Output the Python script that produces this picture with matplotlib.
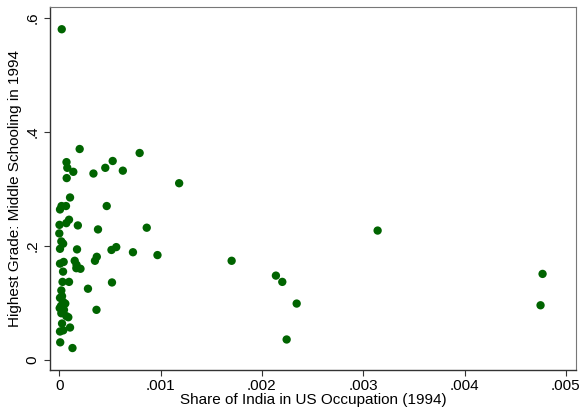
import matplotlib
matplotlib.use("Agg")
import matplotlib.pyplot as plt

# Share of India in US occupation (1994)
share = [0.000024, 0.000201, 0.000071, 0.000079, 0.000138, 0.000073, 0.000337, 0.000454,
         0.000527, 0.000627, 0.000793, 0.001183, 0.000106, 0.000468, 0.000007, 0.000022,
         0.000066, 0.000002, 0.000069, 0.000096, 0.000183, 0.000382, 0.000863, 0.000000,
         0.000020, 0.000038, 0.000007, 0.000175, 0.000515, 0.000562, 0.000727, 0.000969,
         0.000007, 0.000043, 0.000152, 0.000170, 0.000352, 0.000370, 0.000037, 0.000168,
         0.000209, 0.000032, 0.000096, 0.000520, 0.000283, 0.000020, 0.000027, 0.000037,
         0.000059, 0.000004, 0.000367, 0.000020, 0.000069, 0.000089, 0.000027, 0.000106,
         0.000007, 0.000039, 0.000009, 0.000130, 0.001701, 0.002138, 0.002201, 0.002343,
         0.002244, 0.003142, 0.004770, 0.004750, 0.000007, 0.000046, 0.000017]
# Highest grade: middle schooling in 1994
middle = [0.580, 0.370, 0.347, 0.337, 0.330, 0.319, 0.327, 0.337,
          0.349, 0.332, 0.363, 0.310, 0.285, 0.270, 0.264, 0.270,
          0.270, 0.237, 0.240, 0.246, 0.236, 0.229, 0.232, 0.222,
          0.208, 0.204, 0.195, 0.194, 0.193, 0.198, 0.189, 0.184,
          0.169, 0.172, 0.174, 0.167, 0.174, 0.181, 0.155, 0.161,
          0.160, 0.137, 0.137, 0.136, 0.125, 0.122, 0.112, 0.102,
          0.099, 0.091, 0.088, 0.082, 0.077, 0.075, 0.064, 0.057,
          0.050, 0.052, 0.031, 0.021, 0.174, 0.148, 0.137, 0.099,
          0.036, 0.227, 0.151, 0.096, 0.109, 0.088, 0.095]

xticks = [0, 0.001, 0.002, 0.003, 0.004, 0.005]
xticklabels = ["0", ".001", ".002", ".003", ".004", ".005"]
yticks = [0, 0.2, 0.4, 0.6]
yticklabels = ["0", ".2", ".4", ".6"]

plt.rcParams['font.family'] = ['Liberation Sans', 'DejaVu Sans']

fig = plt.figure(figsize=(5.82, 4.16), dpi=100)
ax = fig.add_axes([50/582, 46/416, 526/582, 363/416])
ax.scatter(share, middle, s=36, color='#006400', edgecolors='none', zorder=3)

ax.set_xlim(-0.0000918, 0.0051)
ax.set_ylim(-0.0175, 0.619)
ax.set_xticks(xticks)
ax.set_xticklabels(xticklabels)
ax.set_yticks(yticks)
ax.set_yticklabels(yticklabels, rotation=90, va='center')
ax.tick_params(axis='both', direction='out', length=4.3, width=0.8, color='#333333',
               labelsize=11)
ax.tick_params(axis='x', pad=2.5)
ax.tick_params(axis='y', pad=3)
for side in ['left', 'bottom']:
    ax.spines[side].set_color('#333333')
    ax.spines[side].set_linewidth(1.0)
for side in ['top', 'right']:
    ax.spines[side].set_color('#777777')
    ax.spines[side].set_linewidth(0.8)

ax.set_xlabel("Share of India in US Occupation (1994)", fontsize=11, labelpad=0)
ax.set_ylabel("Highest Grade: Middle Schooling in 1994", fontsize=11, labelpad=3)

fig.savefig("out.png", dpi=100)
